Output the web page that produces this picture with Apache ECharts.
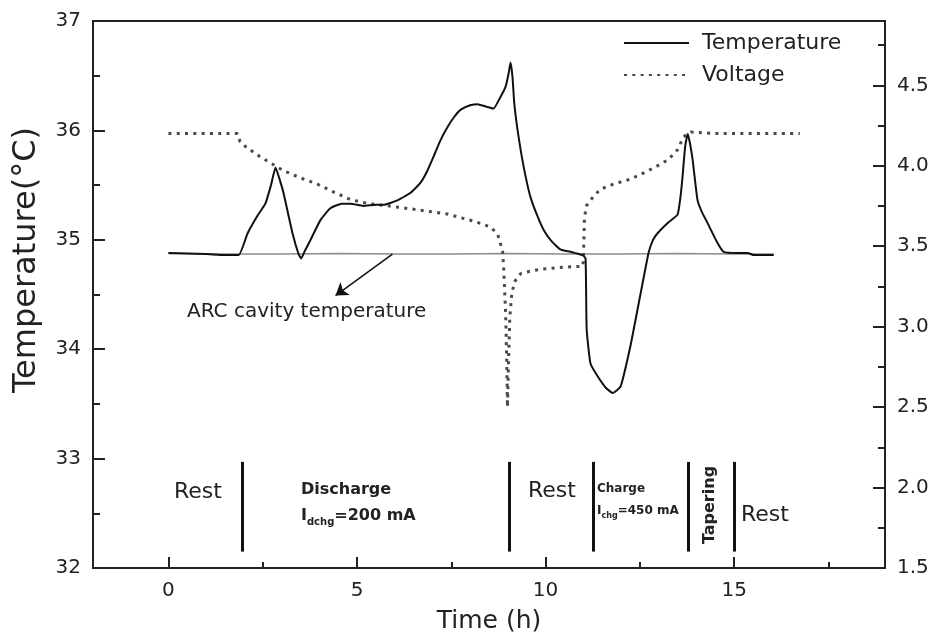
<!DOCTYPE html>
<html>
<head>
<meta charset="utf-8">
<title>Temperature and voltage</title>
<script src="https://cdn.jsdelivr.net/npm/echarts@6/dist/echarts.min.js"></script>
<style>
	body{margin:0;background:#fff;}
	#div_chart{width:935px;height:636px;}
</style>
</head>
<body>
<div id="div_chart"></div>
<script>
//cell temperature, time in h
var tempTime = [0, 0.5, 1.0, 1.5, 1.86, 2.10, 2.36, 2.57, 2.72, 2.84, 2.95, 3.05, 3.29, 3.45, 3.52, 3.62, 3.77, 4.03, 4.30, 4.6, 4.83, 5.17, 5.5, 5.7, 6.07, 6.42, 6.68, 6.85, 7.03, 7.2, 7.40, 7.57, 7.75, 8.0, 8.20, 8.4, 8.62, 8.78, 8.94, 9.02, 9.07, 9.12, 9.17, 9.25, 9.34, 9.47, 9.60, 9.78, 9.95, 10.15, 10.40, 10.66, 10.98, 11.06, 11.09, 11.19, 11.33, 11.59, 11.78, 11.99, 12.25, 12.47, 12.73, 12.85, 12.97, 13.26, 13.50, 13.58, 13.63, 13.70, 13.77, 13.83, 13.90, 14.03, 14.15, 14.30, 14.56, 14.72, 15.09, 15.36, 15.52, 15.8, 16.05];
var tempValue = [34.88, 34.875, 34.87, 34.86, 34.86, 35.06, 35.22, 35.33, 35.50, 35.66, 35.55, 35.43, 35.06, 34.87, 34.83, 34.90, 35.00, 35.18, 35.29, 35.33, 35.33, 35.31, 35.32, 35.32, 35.36, 35.43, 35.52, 35.62, 35.76, 35.90, 36.03, 36.12, 36.19, 36.23, 36.24, 36.22, 36.20, 36.29, 36.40, 36.52, 36.62, 36.50, 36.25, 36.02, 35.82, 35.58, 35.39, 35.22, 35.09, 34.99, 34.91, 34.89, 34.86, 34.83, 34.18, 33.87, 33.78, 33.65, 33.60, 33.66, 34.03, 34.42, 34.88, 35.00, 35.06, 35.16, 35.23, 35.40, 35.57, 35.85, 35.97, 35.88, 35.73, 35.36, 35.25, 35.15, 34.97, 34.89, 34.88, 34.88, 34.86, 34.86, 34.86];

//cell voltage (V)
var voltTime = [0, 1.83, 1.90, 2.04, 2.44, 3.05, 3.5, 3.95, 4.4, 4.83, 5.3, 5.89, 6.50, 7.40, 8.09, 8.54, 8.73, 8.86, 8.89, 8.94, 8.97, 8.99, 9.02, 9.05, 9.10, 9.18, 9.34, 9.60, 9.87, 10.48, 10.98, 11.0, 11.03, 11.08, 11.27, 11.46, 11.80, 12.25, 12.7, 13.05, 13.26, 13.50, 13.66, 13.85, 14.5, 15.5, 16.74];
var voltValue = [4.20, 4.20, 4.15, 4.12, 4.055, 3.97, 3.925, 3.886, 3.835, 3.79, 3.765, 3.749, 3.73, 3.70, 3.656, 3.62, 3.575, 3.47, 3.36, 3.09, 2.78, 2.50, 2.80, 3.05, 3.20, 3.28, 3.33, 3.345, 3.357, 3.37, 3.375, 3.40, 3.67, 3.75, 3.81, 3.855, 3.886, 3.917, 3.967, 4.01, 4.04, 4.10, 4.18, 4.21, 4.20, 4.20, 4.20];

//ARC cavity temperature
var arcTime = [0, 1.5, 3, 4.5, 6, 7.5, 9, 10.5, 12, 13.5, 15, 16.05];
var arcValue = [34.875, 34.87, 34.87, 34.875, 34.87, 34.87, 34.875, 34.87, 34.87, 34.875, 34.87, 34.87];

//test phases: boundaries (h)
var phaseTime = [1.96, 9.05, 11.27, 13.77, 14.99];
var phaseLow = 32.15, phaseHigh = 32.97;

//arrow to the ARC line: [time, temperature] start / end
var arrowFrom = [5.94, 34.87];
var arrowTo = [4.43, 34.49];

var xTicks = [0, 5, 10, 15];
var xMinorTicks = [2.5, 7.5, 12.5, 17.5];

var FONT = 'DejaVu Sans';

function pairs(x, y){
	var d = [];
	for (var i = 0; i < x.length; i++) {
		d.push([x[i], y[i]]);
	}
	return d;
}

function drawChart(){
	var phaseLines = [];
	for (var i = 0; i < phaseTime.length; i++) {
		phaseLines.push([{coord:[phaseTime[i], phaseLow]}, {coord:[phaseTime[i], phaseHigh]}]);
	}

	var option = {
		animation: false,
		backgroundColor: '#fff',
		textStyle: {fontFamily: FONT, color: '#222'},
		grid: {
			left: 93, right: 50, top: 21, bottom: 68,
			outerBoundsMode: 'none',
			show: true, borderColor: '#222', borderWidth: 2
		},
		legend: {
			orient: 'vertical',
			left: 623, top: 32,
			itemWidth: 65, itemHeight: 14, itemGap: 10,
			padding: 0,
			itemStyle: {opacity: 0},
			data: ['Temperature', 'Voltage'],
			textStyle: {fontSize: 22, color: '#222', fontFamily: FONT, padding: [0, 0, 0, 8]}
		},
		xAxis: [
			{
				type: 'value', min: -2, max: 19,
				position: 'bottom',
				name: 'Time (h)', nameLocation: 'middle', nameGap: 41,
				nameTextStyle: {fontSize: 25, color: '#222', fontFamily: FONT},
				axisLine: {onZero: false, lineStyle: {color: '#222', width: 2}},
				axisTick: {inside: true, length: 11, customValues: xTicks, lineStyle: {color: '#222', width: 2}},
				axisLabel: {customValues: xTicks, fontSize: 20, color: '#222', margin: 13},
				splitLine: {show: false}
			},
			{
				//only the short ticks between the labelled ones
				type: 'value', min: -2, max: 19,
				position: 'bottom',
				axisLine: {show: false, onZero: false},
				axisTick: {inside: true, length: 6, customValues: xMinorTicks, lineStyle: {color: '#222', width: 2}},
				axisLabel: {show: false},
				splitLine: {show: false}
			}
		],
		yAxis: [
			{
				type: 'value', min: 32, max: 37, interval: 1,
				position: 'left',
				axisLine: {show: true, onZero: false, lineStyle: {color: '#222', width: 2}},
				axisTick: {inside: true, length: 12, lineStyle: {color: '#222', width: 2}},
				minorTick: {show: true, splitNumber: 2, length: 7, lineStyle: {color: '#222', width: 2}},
				axisLabel: {fontSize: 20, color: '#222', margin: 12},
				splitLine: {show: false}
			},
			{
				type: 'value', min: 1.5, max: 4.9, interval: 0.5,
				position: 'right',
				axisLine: {show: true, onZero: false, lineStyle: {color: '#222', width: 2}},
				axisTick: {inside: true, length: 12, lineStyle: {color: '#222', width: 2}},
				minorTick: {show: true, splitNumber: 2, length: 7, lineStyle: {color: '#222', width: 2}},
				axisLabel: {fontSize: 20, color: '#222', margin: 12, showMaxLabel: false,
					formatter: function(v){ return v.toFixed(1); }},
				splitLine: {show: false}
			}
		],
		series: [
			{
				name: 'ARC cavity temperature',
				type: 'line',
				yAxisIndex: 0,
				symbol: 'none',
				silent: true,
				lineStyle: {color: '#8c8c8c', width: 1.5},
				data: pairs(arcTime, arcValue),
				markLine: {
					silent: true,
					symbol: ['none', 'arrow'],
					symbolSize: 12,
					label: {show: false},
					lineStyle: {color: '#111', width: 1.5, type: 'solid'},
					data: [[{coord: arrowFrom}, {coord: arrowTo}]]
				}
			},
			{
				name: 'Voltage',
				type: 'line',
				yAxisIndex: 1,
				symbol: 'none',
				silent: true,
				color: '#4a4a4a',
				lineStyle: {color: '#4a4a4a', width: 3, type: [3, 5.3], cap: 'butt'},
				data: pairs(voltTime, voltValue)
			},
			{
				name: 'Temperature',
				type: 'line',
				yAxisIndex: 0,
				symbol: 'none',
				silent: true,
				smooth: 0.15,
				color: '#111',
				lineStyle: {color: '#111', width: 2},
				data: pairs(tempTime, tempValue),
				markLine: {
					silent: true,
					symbol: 'none',
					label: {show: false},
					lineStyle: {color: '#111', width: 3, type: 'solid'},
					data: phaseLines
				}
			}
		],
		graphic: [
			{type: 'text', x: 27, y: 260, rotation: Math.PI / 2,
				style: {text: 'Temperature(°C)', fontSize: 32, fontFamily: FONT, fill: '#222', align: 'center', verticalAlign: 'middle'}},
			{type: 'text', x: 187, y: 312,
				style: {text: 'ARC cavity temperature', fontSize: 20, fontFamily: FONT, fill: '#222', align: 'left', verticalAlign: 'middle'}},
			{type: 'text', x: 198, y: 492,
				style: {text: 'Rest', fontSize: 22, fontFamily: FONT, fill: '#222', align: 'center', verticalAlign: 'middle'}},
			{type: 'text', x: 301, y: 490,
				style: {text: 'Discharge', fontSize: 16, fontWeight: 'bold', fontFamily: FONT, fill: '#222', align: 'left', verticalAlign: 'middle'}},
			{type: 'text', x: 301, y: 516,
				style: {text: '{b|I}{s|dchg}{b|=200 mA}', fontFamily: FONT, fill: '#222', align: 'left', verticalAlign: 'middle',
					rich: {
						b: {fontSize: 16, fontWeight: 'bold', fontFamily: FONT},
						s: {fontSize: 10, fontWeight: 'bold', fontFamily: FONT, padding: [12, 0, 0, 0]}
					}}},
			{type: 'text', x: 552, y: 491,
				style: {text: 'Rest', fontSize: 22, fontFamily: FONT, fill: '#222', align: 'center', verticalAlign: 'middle'}},
			{type: 'text', x: 597, y: 489,
				style: {text: 'Charge', fontSize: 12, fontWeight: 'bold', fontFamily: FONT, fill: '#222', align: 'left', verticalAlign: 'middle'}},
			{type: 'text', x: 597, y: 511,
				style: {text: '{b|I}{s|chg}{b|=450 mA}', fontFamily: FONT, fill: '#222', align: 'left', verticalAlign: 'middle',
					rich: {
						b: {fontSize: 12, fontWeight: 'bold', fontFamily: FONT},
						s: {fontSize: 8, fontWeight: 'bold', fontFamily: FONT, padding: [9, 0, 0, 0]}
					}}},
			{type: 'text', x: 710, y: 505, rotation: Math.PI / 2,
				style: {text: 'Tapering', fontSize: 16, fontWeight: 'bold', fontFamily: FONT, fill: '#222', align: 'center', verticalAlign: 'middle'}},
			{type: 'text', x: 765, y: 515,
				style: {text: 'Rest', fontSize: 22, fontFamily: FONT, fill: '#222', align: 'center', verticalAlign: 'middle'}}
		]
	};

	var myChart = echarts.init(document.getElementById('div_chart'));
	myChart.setOption(option);
}

drawChart();
</script>
</body>
</html>
